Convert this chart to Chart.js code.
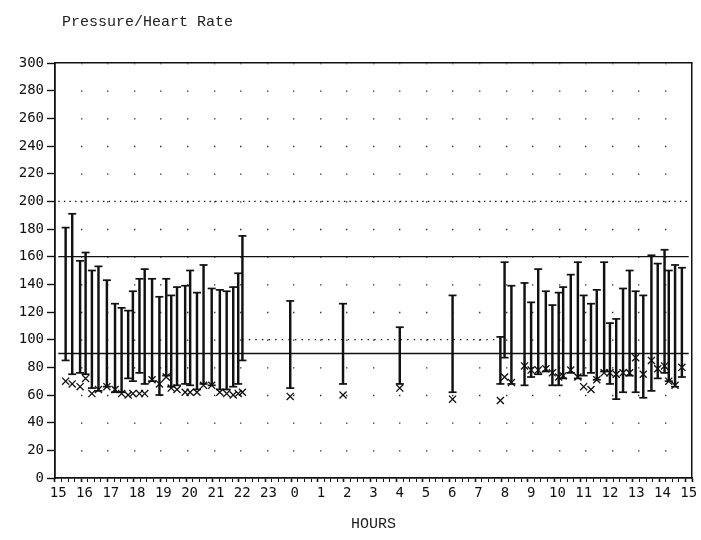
<!DOCTYPE html>
<html>
<head>
<meta charset="utf-8">
<style>
  html, body { margin: 0; padding: 0; background: #fff; }
  #wrap { width: 701px; height: 540px; }
</style>
<script src="https://cdn.jsdelivr.net/npm/chart.js@4.4.1/dist/chart.umd.min.js"></script>
</head>
<body>
<div id="wrap"><canvas id="c" width="701" height="540"></canvas></div>
<script>
// Hour tick labels (axis runs 24 h starting at 15:00)
const hourLabels = ['15','16','17','18','19','20','21','22','23','0','1','2','3','4','5','6','7','8','9','10','11','12','13','14','15'];

// Reading times, in hours elapsed since 15:00
const times = [0.28,0.53,0.83,1.04,1.28,1.53,1.85,2.16,2.41,2.66,2.84,3.09,3.29,3.57,3.85,4.11,4.30,4.52,4.83,5.02,5.28,5.53,5.84,6.15,6.41,6.66,6.85,7.01,
  8.83,10.84,13.0,15.01,16.83,16.99,17.25,
  17.75,18.0,18.27,18.56,18.81,19.05,19.22,19.51,19.78,20.0,20.28,20.5,20.78,21.0,21.24,21.5,21.75,21.98,22.27,22.58,22.82,23.08,23.24,23.48,23.74];

// Systolic pressure (top of each bar)
const systolic = [181,191,157,163,150,153,143,126,123,121,135,144,151,144,131,144,132,138,139,150,134,154,137,136,135,138,148,175,
  128,126,109,132,102,156,139,
  141,127,151,135,125,134,138,147,156,132,126,136,156,112,115,137,150,135,132,161,155,165,150,154,152];

// Diastolic pressure (bottom of each bar)
const diastolic = [85,75,76,75,65,63,66,62,62,72,70,76,68,70,60,74,66,67,68,67,64,68,67,64,64,66,68,85,
  65,68,68,62,68,87,68,
  67,73,75,77,67,67,72,76,72,74,76,71,77,68,57,62,74,62,58,63,72,76,70,66,73];

// Heart rate (x markers)
const heartRate = [70,68,66,72,61,64,66,64,61,60,61,61,61,71,68,73,65,64,62,62,62,67,67,62,61,60,61,62,
  59,60,65,57,56,73,69,
  81,78,78,79,76,73,74,78,73,66,64,71,76,76,75,76,76,87,75,85,79,81,70,67,80];

// Y ticks
const yMin = 0, yMax = 300, yStep = 20;
// Reference limits
const solidLimits = [160, 90];
const dayDottedLimit = 200;
const nightDottedLimit = 100;
const nightSpan = [7, 17]; // 22:00 to 08:00

const INK = '#111';
Chart.defaults.font.family = "'DejaVu Sans Mono', monospace";
Chart.defaults.color = INK;

const pts = (vals) => times.map((t, i) => ({x: t, y: vals[i]}));
const hline = (y, x0, x1) => [{x: x0, y: y}, {x: x1, y: y}];
const isWhole = (v) => Math.abs(v - Math.round(v)) < 1e-6;

const datasets = [];
solidLimits.forEach(v => datasets.push({
  type: 'line', data: hline(v, 0, 24), borderColor: INK, borderWidth: 1.3,
  pointRadius: 0, order: 5
}));
datasets.push({
  type: 'line', data: hline(dayDottedLimit, 0, 24), borderColor: INK, borderWidth: 1.3,
  borderDash: [1.4, 4.2], pointRadius: 0, order: 5
});
datasets.push({
  type: 'line', data: hline(nightDottedLimit, nightSpan[0], nightSpan[1]), borderColor: INK, borderWidth: 1.3,
  borderDash: [1.4, 5.2], pointRadius: 0, order: 5
});
datasets.push({
  type: 'bar', data: times.map((t, i) => ({x: t, y: [diastolic[i], systolic[i]]})),
  backgroundColor: INK, borderWidth: 0, barThickness: 1.8, order: 3
});
datasets.push({
  type: 'line', data: pts(systolic), showLine: false, pointStyle: 'line',
  pointRadius: 4, pointBorderWidth: 1.7, borderColor: INK, order: 2
});
datasets.push({
  type: 'line', data: pts(diastolic), showLine: false, pointStyle: 'line',
  pointRadius: 4, pointBorderWidth: 1.7, borderColor: INK, order: 2
});
datasets.push({
  type: 'line', data: pts(heartRate), showLine: false, pointStyle: 'crossRot',
  pointRadius: 5, pointBorderWidth: 1.3, borderColor: INK, order: 1
});

const titlePlugin = {
  id: 'pageTitle',
  afterDraw(chart) {
    const ctx = chart.ctx;
    ctx.save();
    ctx.font = "15px 'Liberation Mono', monospace";
    ctx.fillStyle = '#222';
    ctx.textBaseline = 'middle';
    ctx.textAlign = 'left';
    ctx.fillText('Pressure/Heart Rate', chart.chartArea.left + 7, 22);
    ctx.restore();
  }
};

new Chart(document.getElementById('c'), {
  data: { datasets },
  plugins: [titlePlugin],
  options: {
    responsive: false,
    animation: false,
    layout: { padding: { top: 63, right: 9, left: 0, bottom: 0 } },
    plugins: { legend: { display: false }, tooltip: { enabled: false }, title: { display: false } },
    scales: {
      x: {
        type: 'linear', position: 'bottom', min: 0, max: 24,
        afterFit: (s) => { s.height = 62; },
        ticks: {
          stepSize: 0.25, autoSkip: false, maxRotation: 0, padding: 3,
          font: { size: 14 }, color: INK,
          callback: (v) => (isWhole(v) ? hourLabels[Math.round(v)] : '')
        },
        grid: {
          drawOnChartArea: false, tickLength: 4, tickColor: INK,
          tickWidth: (c) => (c.tick && !isWhole(c.tick.value) ? 1 : 1.6)
        },
        border: { color: INK, width: 1.8 },
        title: {
          display: true, text: 'HOURS', color: '#222',
          font: { family: "'Liberation Mono', monospace", size: 15 },
          padding: { top: 0, bottom: 7 }
        }
      },
      xTop: {
        type: 'linear', position: 'top', min: 0, max: 24,
        afterFit: (s) => { s.height = 0; },
        ticks: { display: false, stepSize: 1 },
        grid: {
          drawOnChartArea: true, drawTicks: false,
          color: (c) => (c.tick && (c.tick.value === 0 || c.tick.value === 24) ? 'rgba(0,0,0,0)' : '#333'),
          lineWidth: 1.4
        },
        border: {
          display: true, color: INK, width: 1.5,
          dash: (c) => {
            const y = c.chart.scales.y;
            if (!y) return [1.4, 26.3];
            const s = Math.abs(y.getPixelForValue(0) - y.getPixelForValue(yStep));
            return s > 2 ? [1.4, s - 1.4] : [1.4, 26.3];
          },
          dashOffset: 0.7
        }
      },
      y: {
        type: 'linear', position: 'left', min: yMin, max: yMax,
        afterFit: (s) => { s.width = 55; },
        ticks: { stepSize: yStep, padding: 3, font: { size: 14 }, color: INK },
        grid: { drawOnChartArea: false, tickLength: 8, tickColor: INK, tickWidth: 1.4 },
        border: { color: INK, width: 1.8 }
      },
      yRight: {
        type: 'linear', position: 'right', min: yMin, max: yMax,
        afterFit: (s) => { s.width = 0; },
        ticks: { display: false },
        grid: { drawOnChartArea: false, drawTicks: false },
        border: { color: INK, width: 1.5 }
      }
    }
  }
});
</script>
</body>
</html>
